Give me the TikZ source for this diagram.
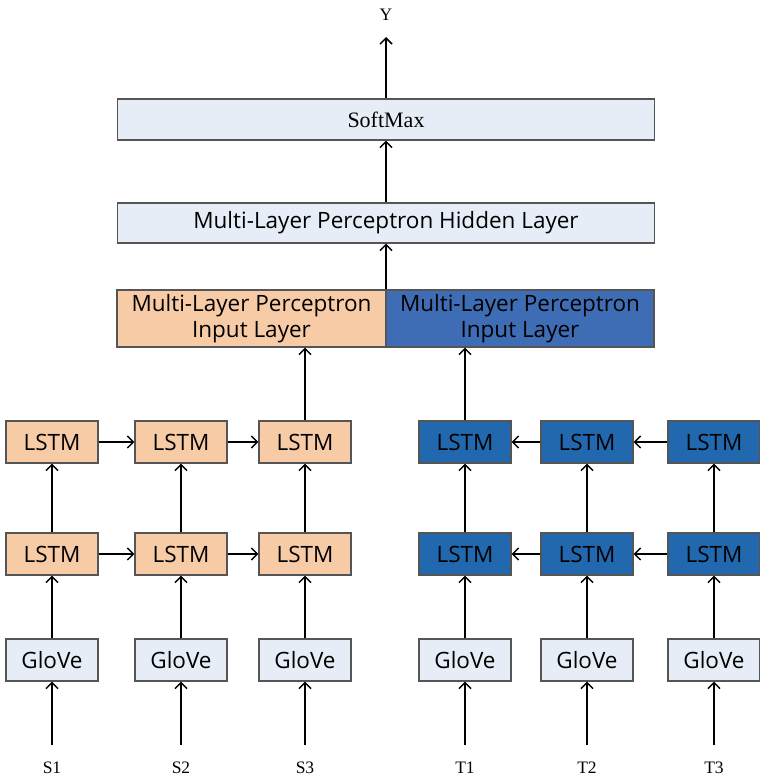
\documentclass[tikz,border=0pt]{standalone}
\usepackage{fontspec}
\setmainfont{Liberation Serif}
\newfontfamily\boxfont{Open Sans}
\usetikzlibrary{arrows.meta}
\definecolor{lightbox}{HTML}{E7EDF7}
\definecolor{peach}{HTML}{F8CBA7}
\definecolor{midblue}{HTML}{3F6DB5}
\definecolor{lstmblue}{HTML}{2268AF}
\definecolor{edgegray}{HTML}{555555}
\tikzset{
  box/.style={draw=edgegray, line width=1.2pt, rectangle, inner sep=0pt, align=center, text=black},
  wide/.style={box, fill=lightbox, minimum width=537pt},
  cell/.style={box, minimum width=92pt, minimum height=42pt, font=\boxfont\fontsize{22.5}{26}\selectfont},
  lstmL/.style={cell, fill=peach},
  lstmR/.style={cell, fill=lstmblue},
  glove/.style={cell, fill=lightbox},
  lbl/.style={font=\fontsize{17.5}{20}\selectfont, inner sep=0pt},
  conn/.style={line width=2pt, -{Straight Barb[length=6pt,width=12pt,line width=1.5pt]}}
}
\begin{document}
\begin{tikzpicture}[x=1pt,y=-1pt]
\useasboundingbox[fill=white] (0,0) rectangle (760,777);
% top
\node[lbl] (Y) at (386,15) {Y};
\coordinate (ytip) at (386,37);
\node[wide, minimum height=41pt, font=\fontsize{22}{26}\selectfont] (soft) at (386,119.5) {SoftMax};
\node[wide, minimum height=40pt, font=\boxfont\fontsize{22.5}{26}\selectfont] (hidden) at (386,223) {Multi-Layer Perceptron Hidden Layer};
\node[box, fill=peach, minimum width=269pt, minimum height=57pt, font=\boxfont\fontsize{22.5}{26}\selectfont] (inL) at (251.5,318.5) {Multi-Layer Perceptron\\Input Layer};
\node[box, fill=midblue, minimum width=268pt, minimum height=57pt, font=\boxfont\fontsize{22.5}{26}\selectfont] (inR) at (520,318.5) {Multi-Layer Perceptron\\Input Layer};
% LSTM rows
\node[lstmL] (a1) at (52,442) {LSTM};
\node[lstmL] (a2) at (181,442) {LSTM};
\node[lstmL] (a3) at (305,442) {LSTM};
\node[lstmR] (b1) at (465,442) {LSTM};
\node[lstmR] (b2) at (587,442) {LSTM};
\node[lstmR] (b3) at (714,442) {LSTM};
\node[lstmL] (c1) at (52,554) {LSTM};
\node[lstmL] (c2) at (181,554) {LSTM};
\node[lstmL] (c3) at (305,554) {LSTM};
\node[lstmR] (d1) at (465,554) {LSTM};
\node[lstmR] (d2) at (587,554) {LSTM};
\node[lstmR] (d3) at (714,554) {LSTM};
% GloVe
\node[glove] (g1) at (52,660) {GloVe};
\node[glove] (g2) at (181,660) {GloVe};
\node[glove] (g3) at (305,660) {GloVe};
\node[glove] (h1) at (465,660) {GloVe};
\node[glove] (h2) at (587,660) {GloVe};
\node[glove] (h3) at (714,660) {GloVe};
% inputs
\foreach \n/\x/\t in {s1/52/S1, s2/181/S2, s3/305/S3, t1/465/T1, t2/587/T2, t3/714/T3}{
  \node[lbl] (\n) at (\x,768) {\t};
  \coordinate (\n b) at (\x,745);
}
% connectors
\draw[conn] (soft.north) -- (ytip);
\draw[conn] (hidden.north) -- (soft.south);
\draw[conn] (hidden.south |- inL.north) -- (hidden.south);
\draw[conn] (a3.north) -- (inL.south -| a3);
\draw[conn] (b1.north) -- (inR.south -| b1);
\foreach \s/\g/\c/\a in {s1/g1/c1/a1, s2/g2/c2/a2, s3/g3/c3/a3, t1/h1/d1/b1, t2/h2/d2/b2, t3/h3/d3/b3}{
  \draw[conn] (\s b) -- (\g.south);
  \draw[conn] (\g.north) -- (\c.south);
  \draw[conn] (\c.north) -- (\a.south);
}
\draw[conn] (a1) -- (a2);
\draw[conn] (a2) -- (a3);
\draw[conn] (c1) -- (c2);
\draw[conn] (c2) -- (c3);
\draw[conn] (b2) -- (b1);
\draw[conn] (b3) -- (b2);
\draw[conn] (d2) -- (d1);
\draw[conn] (d3) -- (d2);
\end{tikzpicture}
\end{document}
